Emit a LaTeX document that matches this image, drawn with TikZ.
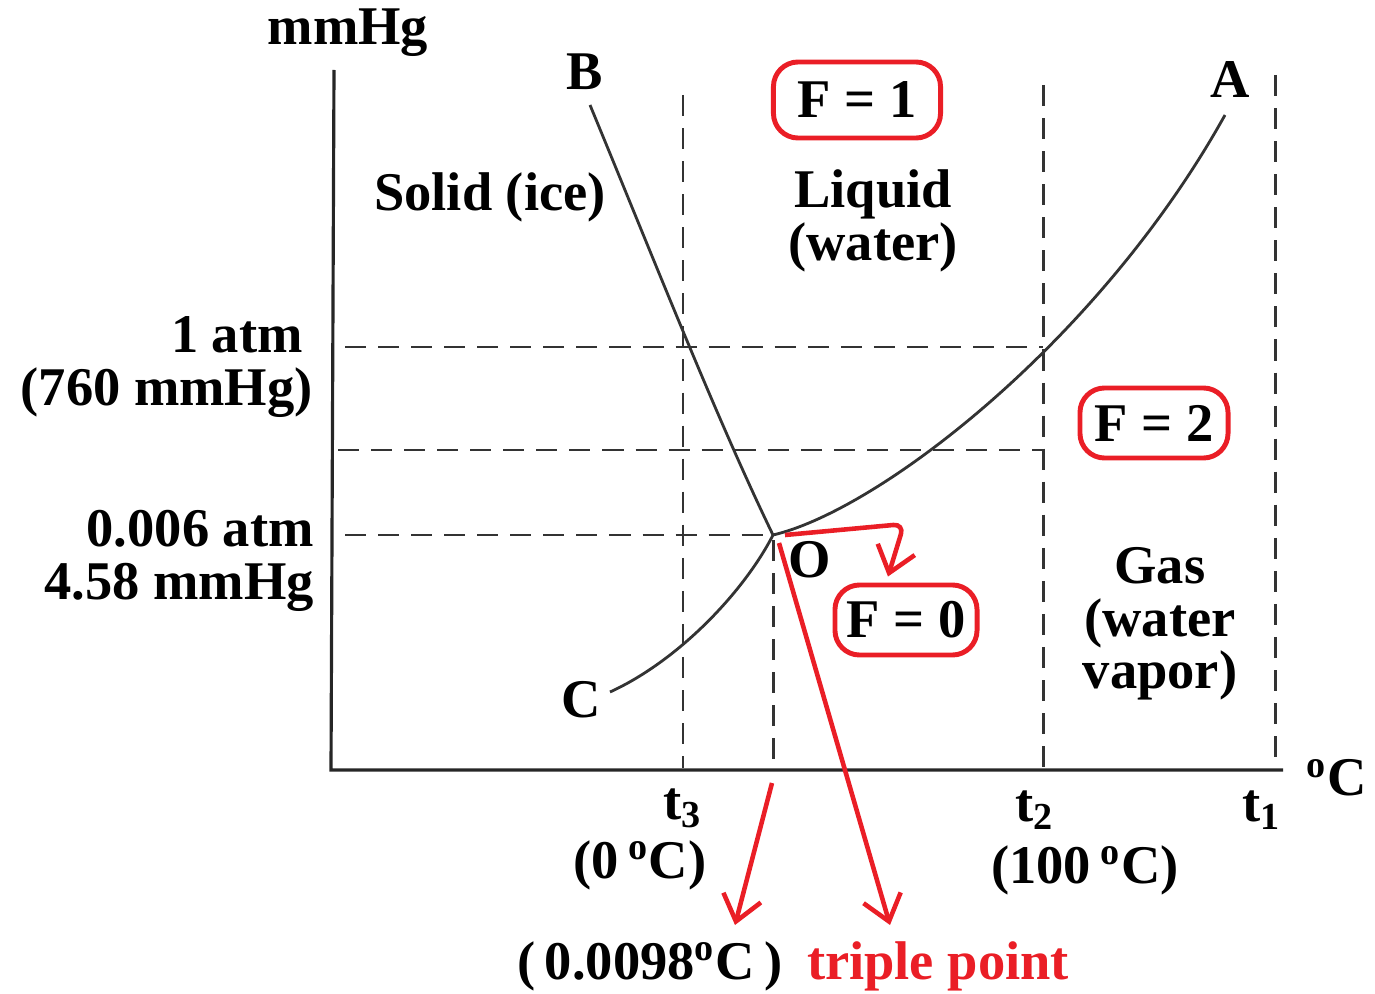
\documentclass[tikz,border=0pt]{standalone}
\usepackage{fontspec}
\setmainfont{Liberation Serif}
\usetikzlibrary{arrows.meta}
\definecolor{redpen}{RGB}{234,30,38}

\begin{document}
\begin{tikzpicture}[x=0.01cm, y=-0.01cm, inner sep=1pt,
    font=\bfseries\fontsize{15.5}{15}\selectfont,
    axis/.style={line width=0.9pt, black!85},
    guide/.style={line width=0.85pt, black!80, dash pattern=on 6pt off 3.4pt},
    phase/.style={line width=0.8pt, black!80},
    fbox/.style={draw=redpen, line width=1.4pt, rounded corners=7pt, inner sep=0pt},
    pen/.style={redpen, line width=1.3pt, -{Straight Barb[length=7pt, width=11pt, line width=1.3pt]}}]
  \useasboundingbox (0,0) rectangle (1375,994);

  % axes
  \coordinate (org) at (331,770);
  \coordinate (ytop) at (334,70);
  \coordinate (xend) at (1283,770);
  \draw[axis] (ytop) -- (org) -- (xend);
  \node (yunit) at (348,33) {mmHg};
  \node (xunit) at (1337,778) {\textsuperscript{o}C};

  % guide lines
  \draw[guide] (345,347) -- (1043,347);
  \draw[guide] (338,450) -- (1043,450);
  \draw[guide] (345,535) -- (773,535);
  \draw[guide] (683,95) -- (683,768);
  \draw[guide] (773,540) -- (773,768);
  \draw[guide] (1043,85) -- (1043,768);
  \draw[guide] (1275,75) -- (1275,762);

  % phase boundaries
  \coordinate (O) at (773,535);
  \draw[phase] (590,105) .. controls (655,262) and (715,415) .. (O);
  \draw[phase] (O) .. controls (880,510) and (1100,340) .. (1225,115);
  \draw[phase] (610,692) .. controls (680,660) and (745,590) .. (O);
  \node (B) at (585,72) {B};
  \node (A) at (1230,80) {A};
  \node (C) at (581,700) {C};
  \node (Olab) at (810,560) {O};

  % regions
  \node (solid) at (490,197) {Solid (ice)};
  \node[align=center] (liquid) at (873,221) {Liquid\\(water)};
  \node[align=center] (gas) at (1160,624) {Gas\\(water\\vapor)};
  \node[fbox, minimum width=1.67cm, minimum height=0.76cm] (f1) at (857,100) {F = 1};
  \node[fbox, minimum width=1.48cm, minimum height=0.70cm] (f2) at (1154,423) {F = 2};
  \node[fbox, minimum width=1.42cm, minimum height=0.70cm] (f0) at (906,620) {F = 0};

  % pressure labels
  \node[anchor=east, align=right] (p1) at (317,367) {1 atm\kern0.1cm\\(760 mmHg)};
  \node[anchor=east, align=right] (p2) at (318,561) {0.006 atm\\4.58 mmHg};

  % temperature labels
  \node (t3) at (683,808) {t\textsubscript{3}};
  \node (t3c) at (640,865) {(0\,\textsuperscript{o}C)};
  \node (t2) at (1035,810) {t\textsubscript{2}};
  \node (t2c) at (1085,870) {(100\,\textsuperscript{o}C)};
  \node (t1) at (1262,810) {t\textsubscript{1}};
  \node (ttp) at (650,966) {(\,0.0098\textsuperscript{o}C\,)};
  \node[text=redpen] (trip) at (938,966) {triple point};

  % red notes
  \coordinate (tick) at (772,783);
  \coordinate (endL) at (735,925);
  \coordinate (endR) at (890,925);
  \coordinate (bend) at (904,524);
  \draw[pen] (tick) -- (endL);
  \draw[pen] ([xshift=0.06cm, yshift=-0.08cm]O) -- (endR);
  \draw[pen, rounded corners=3pt] ([xshift=0.12cm]O) -- (bend) -- ([xshift=-0.18cm, yshift=0.06cm]f0.north);
\end{tikzpicture}
\end{document}
